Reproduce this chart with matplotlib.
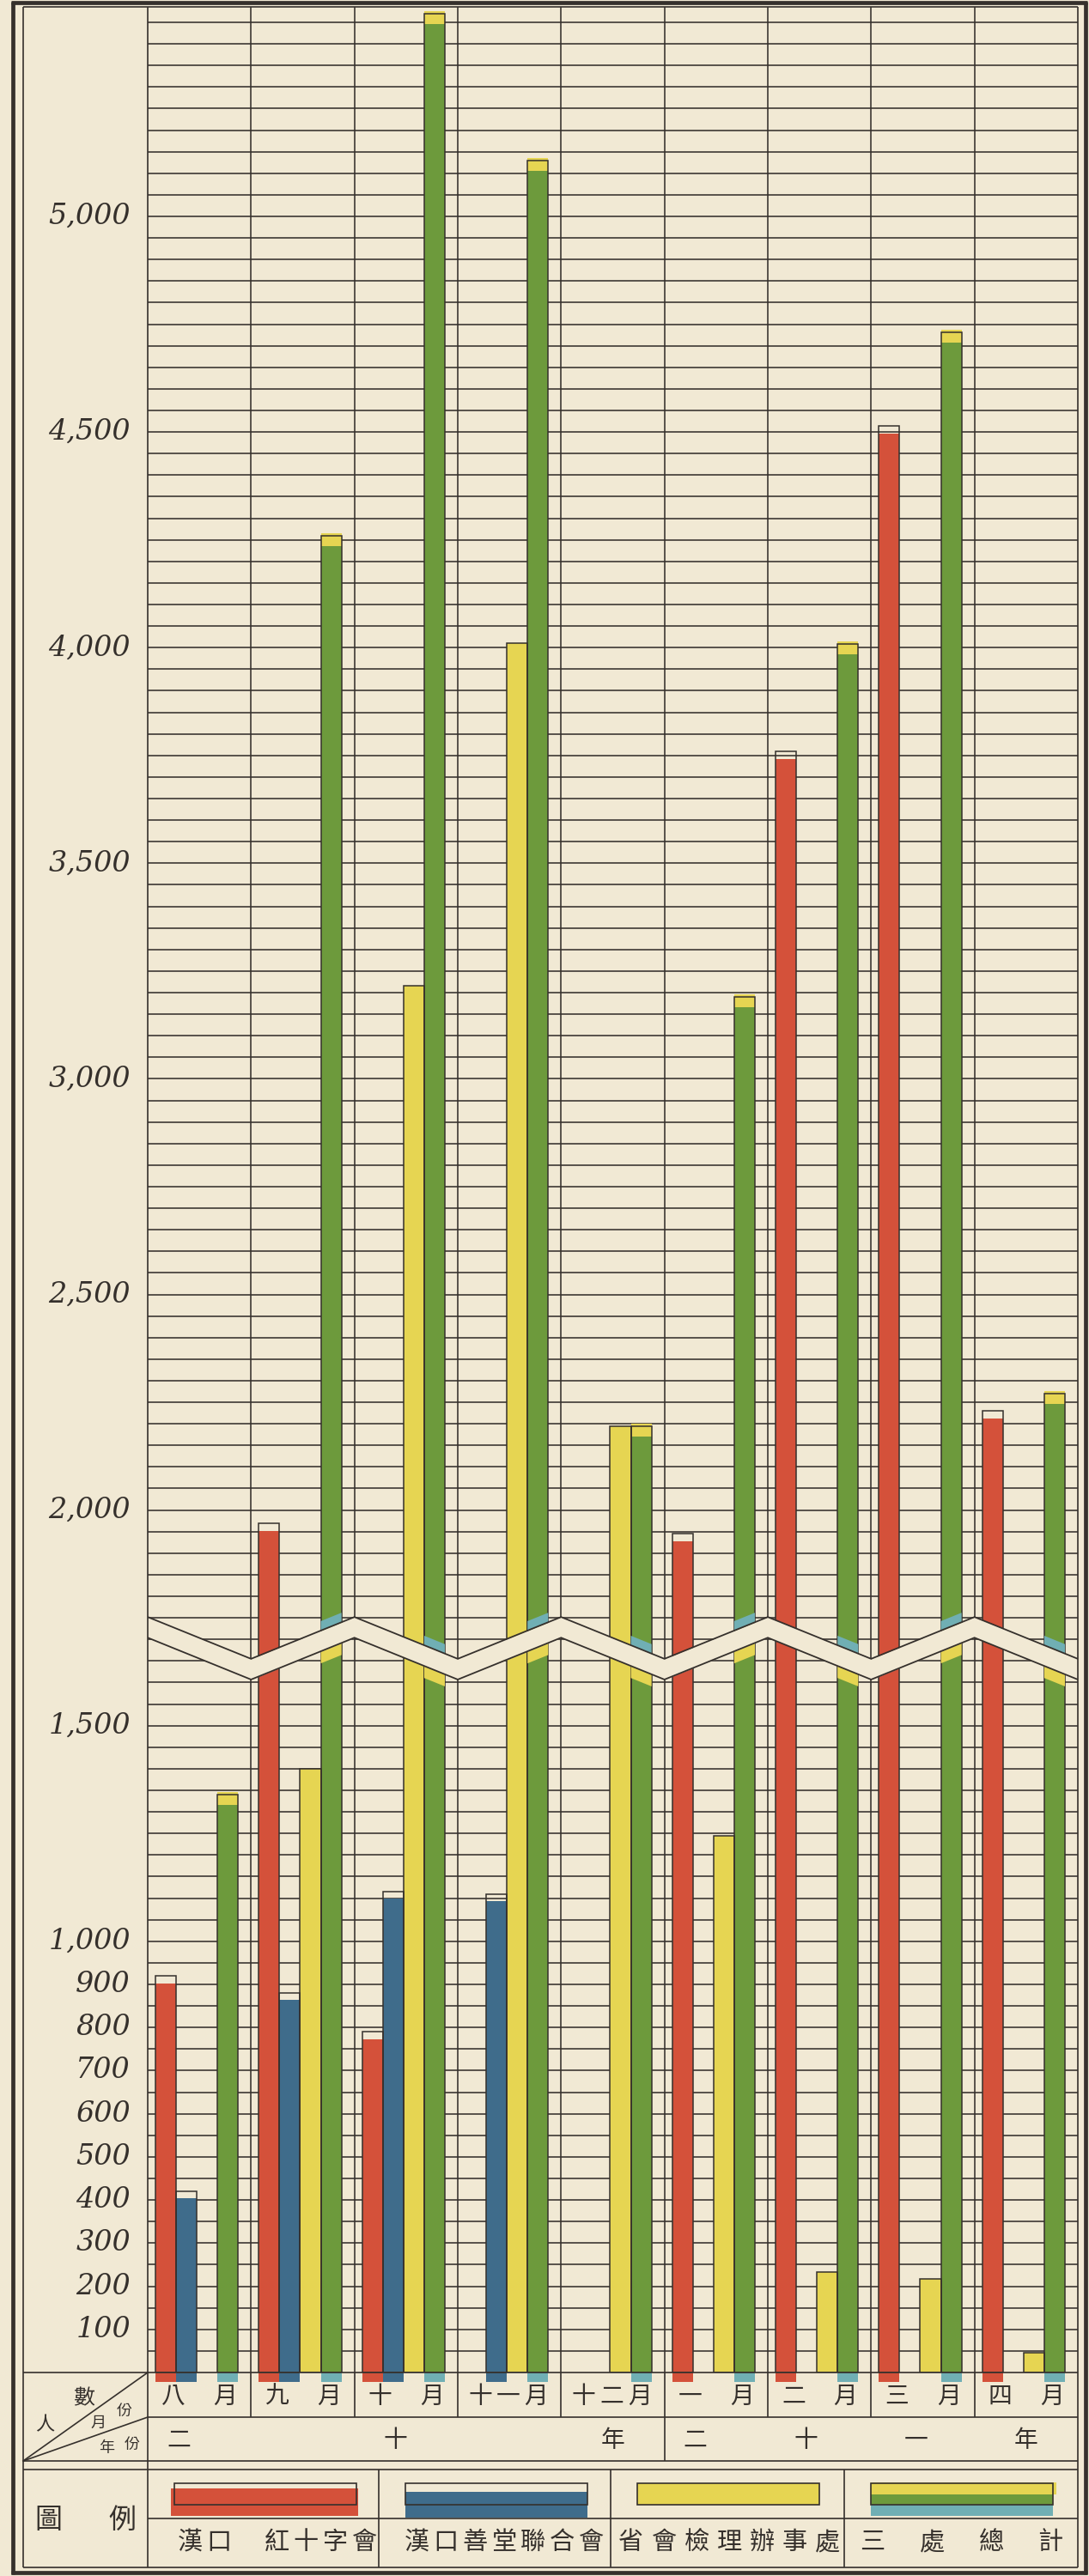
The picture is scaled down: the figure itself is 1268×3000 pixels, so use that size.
import numpy as np
import matplotlib
matplotlib.use('Agg')
import matplotlib.pyplot as plt
from matplotlib.patches import Rectangle, Polygon
from matplotlib.transforms import blended_transform_factory

# ---------------- data ----------------
months = ['八月', '九月', '十月', '十一月', '十二月', '一月', '二月', '三月', '四月']
years = ['二十年', '二十一年']
year_spans = [(0, 5), (5, 9)]
series_names = ['漢口　紅十字會', '漢口善堂聯合會', '省會檢理辦事處', '三處總計']
red_cross = [920, 1970, 790, 0, 0, 1945, 3760, 4515, 2230]
shantang = [420, 880, 1115, 1110, 0, 0, 0, 0, 0]
provincial = [0, 1400, 3215, 4010, 2195, 1245, 232, 218, 45]
total = [1340, 4260, 5470, 5130, 2195, 3190, 4008, 4732, 2270]
ytick_vals = [100, 200, 300, 400, 500, 600, 700, 800, 900, 1000,
              1500, 2000, 2500, 3000, 3500, 4000, 4500, 5000]
ytick_labels = ['100', '200', '300', '400', '500', '600', '700', '800', '900', '1,000',
                '1,500', '2,000', '2,500', '3,000', '3,500', '4,000', '4,500', '5,000']
break_peak = 1752
break_valley = 1655
break_width = 48
header_texts = ['人數', '月份', '年份']
legend_title = '圖例'

# ---------------- style ----------------
PAPER = '#f1e9d4'
INK = '#35302c'
RED = '#d4513a'
BLUE = '#3f6c8b'
YELLOW = '#e6d552'
GREEN = '#6d9a3c'
TEAL = '#70afb4'
CJK = ['Noto Sans CJK TC', 'DejaVu Sans']

W, H = 1268, 3000
fig = plt.figure(figsize=(W / 100, H / 100), dpi=100, facecolor=PAPER)

PL, PR, PT, PB = 172, 1255, 8, 2763
YMAX = (PB - PT) / 0.5022
ax = fig.add_axes([PL / W, 1 - PB / H, (PR - PL) / W, (PB - PT) / H])
ax.set_xlim(0, 9)
ax.set_ylim(0, YMAX)
ax.set_facecolor(PAPER)
ax.axis('off')

ov = fig.add_axes([0, 0, 1, 1], zorder=5)
ov.set_xlim(0, W)
ov.set_ylim(H, 0)
ov.axis('off')
ov.patch.set_alpha(0)

lw_grid = 1.15
# horizontal grid every 50
ax.hlines(np.arange(50, YMAX, 50), 0, 9, color=INK, lw=lw_grid, zorder=1)
# column separators
ax.vlines(np.arange(1, 9), 0, YMAX, color=INK, lw=lw_grid, zorder=3)

n = len(months)
idx = np.arange(n)
bw = 0.2
x0 = 0.075
ext = 22  # colour running below baseline


def bars(vals, k, color, gap=0, below=True, edge=True):
    v = np.array(vals, dtype=float)
    m = v > 0
    left = idx[m] + x0 + bw * k
    bottom = -ext if below else 0
    b = ax.bar(left, v[m] - gap - bottom, bottom=bottom, width=bw, align='edge',
               color=color, lw=0, zorder=2)
    for p in b:
        p.set_clip_on(False)
    if edge:
        ax.bar(left, v[m], width=bw, align='edge', fill=False, edgecolor=INK,
               lw=1.1, zorder=3)
    return left, v[m]


bars(red_cross, 0, RED, gap=18)
bars(shantang, 1, BLUE, gap=16)
bars(provincial, 2, YELLOW, below=False)
# total bars: green body, yellow cap, teal below baseline
tv = np.array(total, dtype=float)
tl = idx + x0 + bw * 3
cap = 24
ax.bar(tl, tv - cap, width=bw, align='edge', color=GREEN, lw=0, zorder=2)
ax.bar(tl, cap + 6, bottom=tv - cap, width=bw, align='edge', color=YELLOW, lw=0, zorder=2)
tb = ax.bar(tl, ext, bottom=-ext, width=bw, align='edge', color=TEAL, lw=0, zorder=2)
for p in tb:
    p.set_clip_on(False)
ax.bar(tl, tv, width=bw, align='edge', fill=False, edgecolor=INK, lw=1.1, zorder=3)

# zigzag break band
zx = np.arange(10)
zup = np.where(zx % 2 == 0, break_peak, break_valley).astype(float)
zlo = zup - break_width
ax.fill_between(zx, zlo, zup, color=PAPER, lw=0, zorder=6)
ax.plot(zx, zup, color=INK, lw=1.3, zorder=7, solid_joinstyle='miter')
ax.plot(zx, zlo, color=INK, lw=1.3, zorder=7, solid_joinstyle='miter')
for xl, v in zip(tl, tv):
    if v > break_peak:
        xr = xl + bw
        ul, ur = np.interp(xl, zx, zup), np.interp(xr, zx, zup)
        ll, lr = np.interp(xl, zx, zlo), np.interp(xr, zx, zlo)
        ax.add_patch(Polygon([(xl, ul), (xr, ur), (xr, ur + 22), (xl, ul + 22)],
                             closed=True, color=TEAL, lw=0, zorder=4))
        ax.add_patch(Polygon([(xl, ll - 28), (xr, lr - 28), (xr, lr), (xl, ll)],
                             closed=True, color=YELLOW, lw=0, zorder=4))

# y labels
for v, t in zip(ytick_vals, ytick_labels):
    ax.text(-20 / 120.3, v, t, ha='right', va='center', fontsize=24,
            family='DejaVu Serif', style='italic', color=INK, clip_on=False)

# ---------------- table / frame (pixel coords) ----------------
def hl(y, xa, xb, lw=1.2):
    ov.plot([xa, xb], [y, y], color=INK, lw=lw, solid_capstyle='butt')


def vl(x, ya, yb, lw=1.2):
    ov.plot([x, x], [ya, yb], color=INK, lw=lw, solid_capstyle='butt')


# outer thick frame
vl(15, 2, 2998, lw=3.4)
hl(3, 13, 1266, lw=3.4)
vl(1264, 2, 2998, lw=3.4)
hl(2996, 13, 1266, lw=3.4)
# inner thin frame
vl(27, 8, 2990)
hl(PT, 27, PR)
vl(PR, 8, 2990)
hl(2990, 27, PR)
vl(PL, 8, 2990)
hl(PB, 27, PR)
hl(2815, PL, PR)
hl(2866, 27, PR)
hl(2876, 27, PR)
hl(2933, PL, PR)
colw = (PR - PL) / 9
for b in range(1, 9):
    vl(PL + b * colw, PB, 2866 if b == year_spans[0][1] else 2815)
for xc in (441, 711, 983):
    vl(xc, 2876, 2990)
# diagonal header cell
ov.plot([27, PL], [2866, PB], color=INK, lw=1.2)
ov.plot([27, PL], [2866, 2815], color=INK, lw=1.2)
ov.text(52, 2824, header_texts[0][0], fontsize=16, family=CJK, color=INK, ha='center', va='center')
ov.text(98, 2793, header_texts[0][1], fontsize=18, family=CJK, color=INK, ha='center', va='center')
ov.text(114, 2822, header_texts[1][0], fontsize=13, family=CJK, color=INK, ha='center', va='center')
ov.text(145, 2808, header_texts[1][1], fontsize=13, family=CJK, color=INK, ha='center', va='center')
ov.text(124, 2851, header_texts[2][0], fontsize=13, family=CJK, color=INK, ha='center', va='center')
ov.text(154, 2847, header_texts[2][1], fontsize=13, family=CJK, color=INK, ha='center', va='center')
ov.text(56, 2935, legend_title[0], fontsize=23, family=CJK, color=INK, ha='center', va='center')
ov.text(142, 2935, legend_title[1], fontsize=23, family=CJK, color=INK, ha='center', va='center')

# month and year labels
tr = blended_transform_factory(ax.transData, ov.transData)
for i, m in enumerate(months):
    pos = [0.25, 0.75] if len(m) == 2 else [0.22, 0.49, 0.76]
    for ch, f in zip(m, pos):
        ax.text(i + f, 2791, ch, transform=tr, ha='center', va='center', fontsize=20,
                family=CJK, color=INK, clip_on=False)
for y, (a, b) in zip(years, year_spans):
    xs = np.linspace(a + 0.3, b - 0.5, len(y))
    for ch, xx in zip(y, xs):
        ax.text(xx, 2842, ch, transform=tr, ha='center', va='center', fontsize=20,
                family=CJK, color=INK, clip_on=False)

# legend
cells = [(172, 441), (441, 711), (711, 983), (983, 1255)]
text_spans = [(49, 252), (44, 247), (24, 252), (33, 240)]
for k, ((ca, cb), name, (ta, tb_)) in enumerate(zip(cells, series_names, text_spans)):
    sx, sw = ca + 31, 212
    if k == 0:
        ov.add_patch(Rectangle((sx - 4, 2898), sw + 6, 32, color=RED, lw=0))
    elif k == 1:
        ov.add_patch(Rectangle((sx, 2902), sw, 30, color=BLUE, lw=0))
    elif k == 2:
        ov.add_patch(Rectangle((sx, 2892), sw, 25, color=YELLOW, lw=0))
    else:
        ov.add_patch(Rectangle((sx, 2891), sw + 4, 14, color=YELLOW, lw=0))
        ov.add_patch(Rectangle((sx, 2905), sw, 12, color=GREEN, lw=0))
        ov.add_patch(Rectangle((sx, 2917), sw, 13, color=TEAL, lw=0))
    ov.add_patch(Rectangle((sx, 2892), sw, 25, fill=False, edgecolor=INK, lw=1.2))
    xs = np.linspace(ca + ta, ca + tb_, len(name))
    for ch, xx in zip(name, xs):
        ov.text(xx, 2961, ch, ha='center', va='center', fontsize=21, family=CJK, color=INK)

fig.savefig('out.png', dpi=100, facecolor=PAPER)
